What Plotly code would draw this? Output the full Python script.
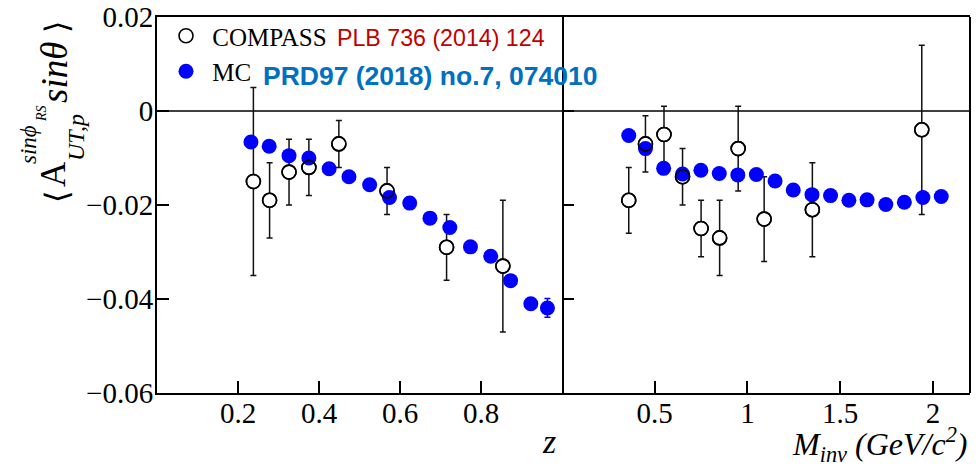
import plotly.graph_objects as go

# ---------------- data ----------------
z_compass = [0.238, 0.278, 0.326, 0.375, 0.449, 0.568, 0.715, 0.854]
a_z_compass = [-0.015, -0.019, -0.013, -0.012, -0.007, -0.017, -0.029, -0.033]
e_z_compass = [0.020, 0.008, 0.007, 0.006, 0.005, 0.005, 0.007, 0.014]

z_mc = [0.232, 0.277, 0.326, 0.375, 0.425, 0.474, 0.525, 0.574, 0.624, 0.674,
        0.723, 0.774, 0.824, 0.873, 0.923, 0.964]
a_z_mc = [-0.0066, -0.0075, -0.0095, -0.0100, -0.0123, -0.0140, -0.0157, -0.0184,
          -0.0196, -0.0228, -0.0248, -0.0289, -0.0309, -0.0361, -0.0410, -0.0419]
e_z_mc = [0, 0, 0, 0, 0, 0, 0, 0, 0, 0, 0, 0, 0, 0, 0, 0.002]

m_compass = [0.36, 0.45, 0.55, 0.65, 0.75, 0.85, 0.95, 1.09, 1.35, 1.94]
a_m_compass = [-0.019, -0.007, -0.005, -0.014, -0.025, -0.027, -0.008, -0.023, -0.021, -0.004]
e_m_compass = [0.007, 0.006, 0.006, 0.006, 0.006, 0.008, 0.009, 0.009, 0.010, 0.018]

m_mc = [0.36, 0.45, 0.548, 0.65, 0.749, 0.848, 0.948, 1.048, 1.149, 1.247,
        1.348, 1.448, 1.547, 1.645, 1.746, 1.846, 1.946, 2.045]
a_m_mc = [-0.0052, -0.0080, -0.0122, -0.0134, -0.0126, -0.0133, -0.0136, -0.0135,
          -0.0149, -0.0168, -0.0178, -0.0180, -0.0190, -0.0189, -0.0199, -0.0194,
          -0.0184, -0.0182]

y_tickvals = [-0.06, -0.04, -0.02, 0, 0.02]
y_ticktext = ["\u22120.06", "\u22120.04", "\u22120.02", "0", "0.02"]
z_tickvals = [0.2, 0.4, 0.6, 0.8]
z_ticktext = ["0.2", "0.4", "0.6", "0.8"]
m_tickvals = [0.5, 1, 1.5, 2]
m_ticktext = ["0.5", "1", "1.5", "2"]

# ---------------- figure ----------------
W, H = 979, 467
ML, MR, MT, MB = 157, 9, 17, 74
PW, PH = W - ML - MR, H - MT - MB


def px2x(px):
    return (px - ML) / PW


def py2y(py):
    return (H - MB - py) / PH


SERIF = "Liberation Serif, Times New Roman, serif"
BLUE = "#0000ff"

fig = go.Figure()

err_style = dict(type="data", thickness=1.5, width=3, color="#111111")

for xs, ys, es, xa, ya, show in [
    (z_compass, a_z_compass, e_z_compass, "x", "y", True),
    (m_compass, a_m_compass, e_m_compass, "x2", "y2", False),
]:
    fig.add_trace(go.Scatter(
        x=xs, y=ys, mode="markers", xaxis=xa, yaxis=ya,
        name="\u00a0COMPASS", showlegend=show, legendgroup="a", legendrank=1,
        error_y=dict(array=es, **err_style),
        marker=dict(symbol="circle", size=14, color="white",
                    line=dict(color="black", width=1.6)),
    ))

fig.add_trace(go.Scatter(
    x=z_mc, y=a_z_mc, mode="markers", xaxis="x", yaxis="y",
    name="\u00a0MC", showlegend=True, legendgroup="b", legendrank=2,
    error_y=dict(type="data", array=e_z_mc, thickness=1.5, width=3, color=BLUE),
    marker=dict(symbol="circle", size=15, color=BLUE, line=dict(width=0)),
))
fig.add_trace(go.Scatter(
    x=m_mc, y=a_m_mc, mode="markers", xaxis="x2", yaxis="y2",
    name="MC", showlegend=False, legendgroup="b",
    marker=dict(symbol="circle", size=15, color=BLUE, line=dict(width=0)),
))

# redraw COMPASS outlines on top
for xs, ys, xa, ya in [
    (z_compass, a_z_compass, "x", "y"),
    (m_compass, a_m_compass, "x2", "y2"),
]:
    fig.add_trace(go.Scatter(
        x=xs, y=ys, mode="markers", xaxis=xa, yaxis=ya, showlegend=False,
        hoverinfo="skip",
        marker=dict(symbol="circle-open", size=14,
                    line=dict(color="black", width=1.6), color="black"),
    ))

split = 405 / PW
axis_common = dict(linecolor="black", linewidth=2,
                   ticks="inside", ticklen=12, tickwidth=1.5, tickcolor="black",
                   showgrid=False, zeroline=False, automargin=False,
                   tickfont=dict(family=SERIF, size=29, color="black"))

fig.update_layout(
    width=W, height=H,
    margin=dict(l=ML, r=MR, t=MT, b=MB, pad=0, autoexpand=False),
    paper_bgcolor="white", plot_bgcolor="white",
    xaxis=dict(domain=[0, split], range=[0, 1], tickvals=z_tickvals,
               ticktext=z_ticktext, anchor="y", showline=True, mirror=True,
               ticklabelstandoff=-7, **axis_common),
    yaxis=dict(domain=[0, 1], range=[-0.06, 0.02], tickvals=y_tickvals,
               ticktext=y_ticktext, anchor="x", showline=True, mirror=True,
               ticklabelstandoff=-4, **axis_common),
    xaxis2=dict(domain=[split, 1], range=[0, 2.2], tickvals=m_tickvals,
                ticktext=m_ticktext, anchor="y2", showline=True, mirror=True,
                ticklabelstandoff=-7, **axis_common),
    yaxis2=dict(domain=[0, 1], range=[-0.06, 0.02], tickvals=y_tickvals,
                showticklabels=False, anchor="x2", showline=False, **axis_common),
    showlegend=True,
    legend=dict(x=px2x(166), y=py2y(13), xanchor="left", yanchor="top",
                bgcolor="rgba(0,0,0,0)", font=dict(family=SERIF, size=25, color="black"),
                tracegroupgap=7, itemsizing="trace", traceorder="normal"),
)

# right border of right panel
fig.add_shape(type="line", xref="x2 domain", yref="y2 domain", x0=1, x1=1, y0=0, y1=1,
              line=dict(color="black", width=2))

# zero line spanning both panels
for xr, yr in [("x", "y"), ("x2", "y2")]:
    fig.add_shape(type="line", xref=f"{xr} domain", yref=yr, x0=0, x1=1, y0=0, y1=0,
                  line=dict(color="black", width=1.5), layer="below")

ann = []
# reference texts
ann.append(dict(text="PLB 736 (2014) 124", x=px2x(335), y=py2y(38), xanchor="left",
                yanchor="middle", font=dict(family="Liberation Sans", size=23.2, color="#c00000")))
ann.append(dict(text="<b>PRD97 (2018) no.7, 074010</b>", x=px2x(261), y=py2y(76),
                xanchor="left", yanchor="middle",
                font=dict(family="Liberation Sans", size=26.5, color="#0070c0")))

# axis titles
ann.append(dict(text="z", x=px2x(549), y=py2y(441), xanchor="center", yanchor="middle",
                font=dict(family=SERIF, size=34, color="black", style="italic")))
ann.append(dict(text="M<sub>inv</sub> (GeV/c<sup>2</sup>)", x=px2x(969), y=py2y(444),
                xanchor="right", yanchor="middle",
                font=dict(family=SERIF, size=32, color="black", style="italic")))

# y-axis title pieces (rotated)
ytitle = [
    ("\u27e8", 57, 197, 32, "normal", "DejaVu Serif"),
    ("A", 54, 174, 35, "normal", SERIF),
    ("UT,p", 76, 138, 24, "italic", SERIF),
    ("sin\u03d5", 28, 145, 23, "italic", SERIF),
    ("RS", 41, 113, 14, "italic", SERIF),
    ("sin\u03b8", 54, 73, 37, "italic", SERIF),
    ("\u27e9", 57, 27, 32, "normal", "DejaVu Serif"),
]
for t, xx, yy, sz, st, fam in ytitle:
    ann.append(dict(text=t, x=px2x(xx), y=py2y(yy), xanchor="center", yanchor="middle",
                    textangle=-90,
                    font=dict(family=fam, size=sz, color="black", style=st)))

for a in ann:
    a.update(xref="paper", yref="paper", showarrow=False)
fig.update_layout(annotations=ann)

fig.write_html("out.html")
